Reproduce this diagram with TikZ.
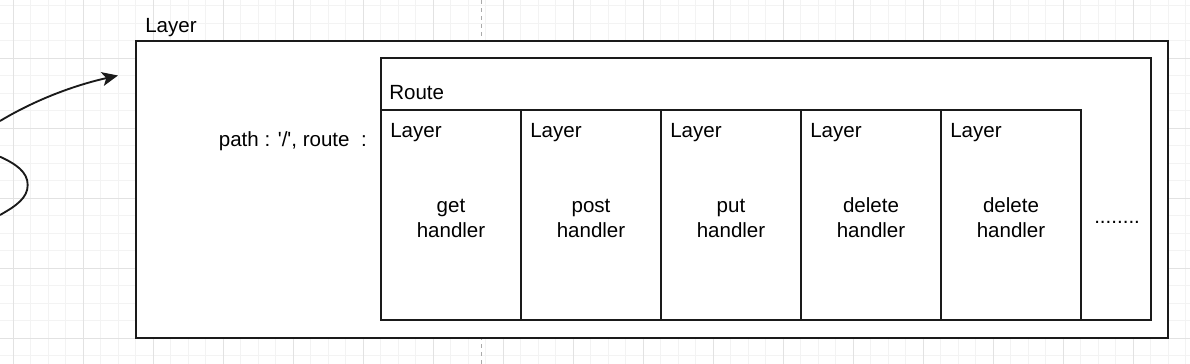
\documentclass[tikz,border=0pt]{standalone}
\usepackage{fontspec}
\setmainfont{Liberation Sans}
\usetikzlibrary{arrows.meta,fit}
\definecolor{gridminor}{HTML}{F3F3F3}
\definecolor{gridmajor}{HTML}{E2E2E2}
\definecolor{ink}{HTML}{1A1A1A}
\definecolor{pagebreak}{HTML}{AAAAAA}
\begin{document}
\begin{tikzpicture}[x=0.75pt,y=-0.75pt,
  outerbox/.style={draw=ink, line width=1.5pt, fill=white, inner sep=0pt, outer sep=0pt},
  box/.style={draw=ink, line width=1.2pt, fill=white, inner sep=0pt, outer sep=0pt},
  lbl/.style={font=\fontsize{15.4}{18.75}\selectfont, text=black, inner sep=0pt},
  handlerlbl/.style={lbl, align=center},
  conn/.style={draw=ink, line width=1.4pt},
  gridmin/.style={draw=gridminor, line width=0.75pt},
  gridmaj/.style={draw=gridmajor, line width=0.75pt},
  pagebrk/.style={draw=pagebreak, line width=0.75pt, dash pattern=on 3pt off 3pt}]
\useasboundingbox (0,0) rectangle (1190,364);
\fill[white] (0,0) rectangle (1190,364);
% canvas grid
\foreach \k in {0,...,67} \draw[gridmin] ({13.33+17.5*\k},0) -- ({13.33+17.5*\k},364);
\foreach \k in {0,...,20} \draw[gridmin] (0,{5.83+17.5*\k}) -- (1190,{5.83+17.5*\k});
\foreach \k in {0,...,16} \draw[gridmaj] ({13.33+70*\k},0) -- ({13.33+70*\k},364);
\foreach \k in {0,...,4} \draw[gridmaj] (0,{338.33-70*\k}) -- (1190,{338.33-70*\k});
\draw[pagebrk] (481,0) -- (481,364);
% boxes
\node[outerbox, fit={(136,41) (1168,338)}] (outer) {};
\node[box, fit={(381,58) (1151,320)}] (route) {};
\foreach \i/\x/\h in {1/381/get,2/521/post,3/661/put,4/801/delete,5/941/delete} {
  \node[box, fit={(\x,110) ({\x+140},320)}] (L\i) {};
  \node[lbl, anchor=base west] (L\i title) at ({\x+9},137) {Layer};
  \node[handlerlbl] (L\i text) at ({\x+70},218) {\h\\handler};
}
% labels
\node[lbl, anchor=base west] (outertitle) at (145,32) {Layer};
\node[lbl, anchor=base west] (routetitle) at (389,99) {Route};
\node[lbl, anchor=base east] (pathlbl) at (367,146) {path : \textquotesingle/\textquotesingle, route\ \ :};
\node[lbl, anchor=base west] (dots) at (1094,223) {........};
% connector
\coordinate (arrstart) at (0,121);
\coordinate (arrtip) at (118,75.5);
\draw[conn, -{Stealth[length=12pt,width=10.5pt,inset=3pt]}] (arrstart) .. controls (40,97) and (80,84) .. (arrtip);
\coordinate (loopa) at (0,156.7);
\coordinate (loopb) at (0,215);
\draw[conn] (loopa) .. controls (16,164) and (27.7,172) .. (27.7,185) .. controls (27.7,198) and (16,206) .. (loopb);
\end{tikzpicture}
\end{document}
